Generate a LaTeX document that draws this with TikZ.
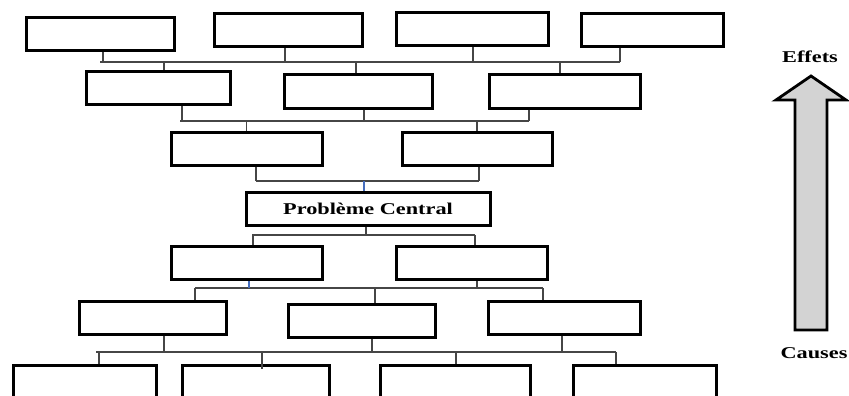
\documentclass[tikz,border=0pt]{standalone}
\usepackage{fontspec}
\newfontfamily\labfont[FakeStretch=1.35]{Liberation Serif}
\usetikzlibrary{positioning}
\definecolor{TreeGray}{RGB}{70,70,70}
\definecolor{TreeBlue}{RGB}{70,110,190}
\definecolor{ArrGray}{RGB}{211,211,211}
\tikzset{
	box/.style={draw=black, line width=3pt, minimum width=#1, minimum height=33pt, inner sep=0pt},
	bus/.style={draw=TreeGray, line width=1.4pt},
	bluebus/.style={draw=TreeBlue, line width=1.4pt},
	lab/.style={font=\labfont\bfseries\fontsize{16.5}{19}\selectfont, inner sep=0pt},
	updir/.style={draw=black, line width=2.8pt, fill=ArrGray, line join=miter}
}

\begin{document}
\begin{tikzpicture}[x=1pt, y=-1pt]
	\useasboundingbox (0,0) rectangle (849,396);
	\clip (0,0) rectangle (849,396);
	% effets
	\node[box=148pt] (e11) at (100,34) {};
	\node[box=148pt] (e12) at (288,30.5) {};
	\node[box=152pt] (e13) at (472,29.5) {};
	\node[box=142pt] (e14) at (652,30.5) {};
	\node[box=144pt] (e21) at (158,88) {};
	\node[box=148pt] (e22) at (358,91.5) {};
	\node[box=151pt] (e23) at (564.5,91.5) {};
	\node[box=151pt] (e31) at (246.5,148.5) {};
	\node[box=150pt] (e32) at (477,148.5) {};
	% probleme central
	\node[box=244pt, lab] (pc) at (368,208.5) {Probl\`eme Central};
	% causes
	\node[box=151pt] (c11) at (246.5,263) {};
	\node[box=151pt] (c12) at (471.5,263) {};
	\node[box=147pt] (c21) at (152.5,317.5) {};
	\node[box=147pt] (c22) at (361.5,320.5) {};
	\node[box=152pt] (c23) at (564,317.5) {};
	\node[box=143pt] (c31) at (84.5,382) {};
	\node[box=147pt] (c32) at (255.5,382) {};
	\node[box=150pt] (c33) at (455,382) {};
	\node[box=143pt] (c34) at (644.5,382) {};

	\coordinate (b1w) at (100,62);
	\coordinate (b1e) at (620,62);
	\coordinate (b2w) at (180,121);
	\coordinate (b2e) at (529,121);
	\coordinate (b3w) at (256,181);
	\coordinate (b3e) at (479,181);
	\coordinate (b4w) at (252,235);
	\coordinate (b4e) at (475,235);
	\coordinate (b5w) at (195,288);
	\coordinate (b5e) at (543,288);
	\coordinate (b6w) at (96,352);
	\coordinate (b6e) at (616,352);

	\draw[bus] (b1w) -- (b1e);
	\draw[bus] ([xshift=3pt]e11.south) -- ([xshift=3pt]e11.south |- b1w);
	\draw[bus] ([xshift=-3pt]e12.south) -- ([xshift=-3pt]e12.south |- b1w);
	\draw[bus] ([xshift=1pt]e13.south) -- ([xshift=1pt]e13.south |- b1w);
	\draw[bus] ([xshift=-32pt]e14.south) -- ([xshift=-32pt]e14.south |- b1w);
	\draw[bus] ([xshift=6pt]e21.north) -- ([xshift=6pt]e21.north |- b1w);
	\draw[bus] ([xshift=-2pt]e22.north) -- ([xshift=-2pt]e22.north |- b1w);
	\draw[bus] ([xshift=-4.5pt]e23.north) -- ([xshift=-4.5pt]e23.north |- b1w);

	\draw[bus] (b2w) -- (b2e);
	\draw[bus] ([xshift=24pt]e21.south) -- ([xshift=24pt]e21.south |- b2w);
	\draw[bus] ([xshift=6pt]e22.south) -- ([xshift=6pt]e22.south |- b2w);
	\draw[bus] ([xshift=-35.5pt]e23.south) -- ([xshift=-35.5pt]e23.south |- b2w);
	\draw[bus] (e31.north) -- (e31.north |- b2w);
	\draw[bus] (e32.north) -- (e32.north |- b2w);

	\draw[bus] (b3w) -- (b3e);
	\draw[bus] ([xshift=9.5pt]e31.south) -- ([xshift=9.5pt]e31.south |- b3w);
	\draw[bus] ([xshift=2pt]e32.south) -- ([xshift=2pt]e32.south |- b3w);
	\draw[bluebus] ([xshift=-4pt]pc.north) -- ([xshift=-4pt]pc.north |- b3w);

	\draw[bus] (b4w) -- (b4e);
	\draw[bus] ([xshift=-2pt]pc.south) -- ([xshift=-2pt]pc.south |- b4w);
	\draw[bus] ([xshift=6.5pt]c11.north) -- ([xshift=6.5pt]c11.north |- b4w);
	\draw[bus] ([xshift=3.5pt]c12.north) -- ([xshift=3.5pt]c12.north |- b4w);

	\draw[bus] (b5w) -- (b5e);
	\draw[bluebus] ([xshift=2.5pt]c11.south) -- ([xshift=2.5pt]c11.south |- b5w);
	\draw[bus] ([xshift=5.5pt]c12.south) -- ([xshift=5.5pt]c12.south |- b5w);
	\draw[bus] ([xshift=42.5pt]c21.north) -- ([xshift=42.5pt]c21.north |- b5w);
	\draw[bus] ([xshift=13.5pt]c22.north) -- ([xshift=13.5pt]c22.north |- b5w);
	\draw[bus] ([xshift=-21pt]c23.north) -- ([xshift=-21pt]c23.north |- b5w);

	\draw[bus] (b6w) -- (b6e);
	\draw[bus] ([xshift=11.5pt]c21.south) -- ([xshift=11.5pt]c21.south |- b6w);
	\draw[bus] ([xshift=10.5pt]c22.south) -- ([xshift=10.5pt]c22.south |- b6w);
	\draw[bus] ([xshift=-2pt]c23.south) -- ([xshift=-2pt]c23.south |- b6w);
	\draw[bus] ([xshift=14.5pt]c31.north) -- ([xshift=14.5pt]c31.north |- b6w);
	\draw[bus] ([xshift=6.5pt,yshift=-5pt]c32.north) -- ([xshift=6.5pt]c32.north |- b6w);
	\draw[bus] ([xshift=1pt]c33.north) -- ([xshift=1pt]c33.north |- b6w);
	\draw[bus] ([xshift=-28.5pt]c34.north) -- ([xshift=-28.5pt]c34.north |- b6w);

	% direction
	\draw[updir] (795,330) -- (795,100) -- (776,100) -- (811,76) -- (846,100)
		-- (827,100) -- (827,330) -- cycle;
	\node[lab] (eff) at (810,57) {Effets};
	\node[lab] (cau) at (814,353) {Causes};
\end{tikzpicture}
\end{document}
